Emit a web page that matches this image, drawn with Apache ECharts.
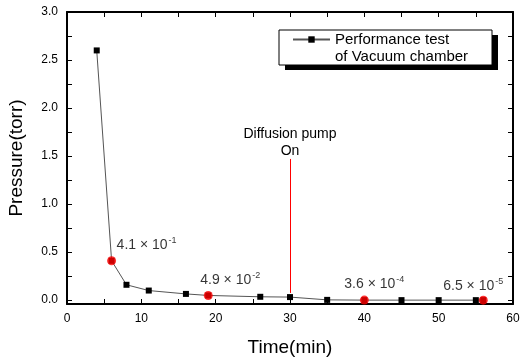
<!DOCTYPE html>
<html>
<head>
<meta charset="utf-8">
<script src="https://cdn.jsdelivr.net/npm/echarts@6/dist/echarts.min.js"></script>
<style>html,body{margin:0;padding:0;background:#fff}#c{width:520px;height:359px}</style>
</head>
<body>
<div id="c"></div>
<script>
// ---- data ----
var times = [4, 6, 8, 11, 16, 19, 26, 30, 35, 40, 45, 50, 55, 56];
var pressures = [2.6, 0.41, 0.16, 0.10, 0.065, 0.049, 0.035, 0.032, 0.003, 0.00036, 0.0003, 0.0002, 0.0001, 0.000065];
var markTimes = [6, 19, 40, 56];
var markPressures = [0.41, 0.049, 0.00036, 0.000065];
var markMantissa = ['4.1', '4.9', '3.6', '6.5'];
var markExponent = ['-1', '-2', '-4', '-5'];
var xTicks = [0, 10, 20, 30, 40, 50, 60];
var yTickLabels = [0, 0.5, 1.0, 1.5, 2.0, 2.5, 3.0];
var yMinorTicks = [0, 0.25, 0.5, 0.75, 1.0, 1.25, 1.5, 1.75, 2.0, 2.25, 2.5, 2.75, 3.0];
var pumpOnTime = 30;
var seriesName = 'Performance test';
var legendLabel = ' \nPerformance test\nof Vacuum chamber';
var pumpText = 'Diffusion pump\nOn';

// ---- layout (not data) ----
var labelOffsets = [[35, -16], [22, -15], [10, -16], [-10, -14]];
var FONT = '"Liberation Sans", Arial, sans-serif';

var chart = echarts.init(document.getElementById('c'), null, {renderer: 'canvas'});

var mainData = times.map(function (t, i) { return [t, pressures[i]]; });
var redData = markTimes.map(function (t, i) {
  return {
    value: [t, markPressures[i]],
    label: {
      show: true,
      position: 'inside',
      offset: labelOffsets[i],
      formatter: '{b|' + markMantissa[i] + ' \u00d7 10}{s|' + markExponent[i] + '}'
    }
  };
});

var frameLine = {show: true, onZero: false, lineStyle: {color: '#000', width: 2}};
var tickStyle = {color: '#000', width: 1};

var option = {
  backgroundColor: '#fff',
  animation: false,
  textStyle: {fontFamily: FONT},
  grid: {left: 67, right: 7, top: 12, bottom: 55, containLabel: false, outerBoundsMode: 'none'},
  graphic: [{
    type: 'rect', z: 10,
    shape: {x: 285, y: 35, width: 213, height: 35},
    style: {fill: '#000'}
  }, {
    type: 'rect', z: 11,
    shape: {x: 279, y: 30, width: 213, height: 35},
    style: {fill: '#fff', stroke: '#000', lineWidth: 1}
  }],
  legend: {
    z: 20,
    left: 292,
    top: 14,
    padding: 0,
    itemWidth: 37,
    itemHeight: 8,
    data: [seriesName],
    formatter: function () { return legendLabel; },
    textStyle: {fontFamily: FONT, fontSize: 15, color: '#000', lineHeight: 17}
  },
  xAxis: [{
    type: 'value', min: 0, max: 60, interval: 10,
    axisLine: frameLine,
    axisTick: {show: true, inside: true, length: 5, lineStyle: tickStyle},
    minorTick: {show: true, splitNumber: 2, length: 5, lineStyle: tickStyle},
    splitLine: {show: false},
    axisLabel: {color: '#000', fontSize: 12, margin: 9, fontFamily: FONT, customValues: xTicks},
    name: 'Time(min)', nameLocation: 'middle', nameGap: 34,
    nameTextStyle: {fontSize: 19, color: '#000', fontFamily: FONT}
  }, {
    type: 'value', min: 0, max: 60, interval: 10, position: 'top',
    axisLine: frameLine,
    axisTick: {show: true, inside: true, length: 5, lineStyle: tickStyle},
    minorTick: {show: true, splitNumber: 2, length: 5, lineStyle: tickStyle},
    splitLine: {show: false},
    axisLabel: {show: false}
  }],
  yAxis: [{
    type: 'value', min: -0.04, max: 3.0,
    axisLine: frameLine,
    axisTick: {show: true, inside: true, length: 5, customValues: yMinorTicks, lineStyle: tickStyle},
    splitLine: {show: false},
    axisLabel: {color: '#000', fontSize: 12, margin: 9, fontFamily: FONT,
      customValues: yTickLabels,
      formatter: function (v) { return v.toFixed(1); }},
    name: 'Pressure(torr)', nameLocation: 'middle', nameGap: 41, nameRotate: 90,
    nameTextStyle: {fontSize: 19, color: '#000', fontFamily: FONT}
  }, {
    type: 'value', min: -0.04, max: 3.0, position: 'right',
    axisLine: frameLine,
    axisTick: {show: true, inside: true, length: 5, customValues: yMinorTicks, lineStyle: tickStyle},
    splitLine: {show: false},
    axisLabel: {show: false, customValues: yTickLabels}
  }],
  series: [{
    name: seriesName,
    type: 'line',
    xAxisIndex: 0, yAxisIndex: 0,
    data: mainData,
    symbol: 'rect',
    symbolSize: 6,
    showAllSymbol: true,
    lineStyle: {color: '#555', width: 1},
    itemStyle: {color: '#000'},
    z: 3,
    markLine: {
      silent: true,
      z: 5,
      symbol: ['none', 'arrow'],
      symbolSize: [0, 7],
      itemStyle: {color: '#ff0000'},
      lineStyle: {color: '#ff0000', width: 1, type: 'solid', opacity: 1},
      emphasis: {disabled: true},
      label: {show: true, position: 'start', distance: -1, formatter: pumpText, color: '#000',
        fontSize: 14, lineHeight: 17, fontFamily: FONT},
      data: [[
        {coord: [pumpOnTime, 1.47], lineStyle: {color: '#ff0000'}, itemStyle: {color: '#ff0000'}},
        {coord: [pumpOnTime, 0.075], lineStyle: {color: '#ff0000'}, itemStyle: {color: '#ff0000'}}
      ]]
    }
  }, {
    name: 'marks',
    type: 'scatter',
    xAxisIndex: 0, yAxisIndex: 0,
    data: redData,
    symbol: 'circle',
    symbolSize: 9,
    itemStyle: {color: '#ff0000'},
    z: 4,
    label: {
      color: '#000',
      rich: {
        b: {fontSize: 14, fontFamily: FONT, color: '#000'},
        s: {fontSize: 9, fontFamily: FONT, color: '#000', padding: [0, 0, 9, 1]}
      }
    }
  }]
};
chart.setOption(option);
</script>
</body>
</html>
